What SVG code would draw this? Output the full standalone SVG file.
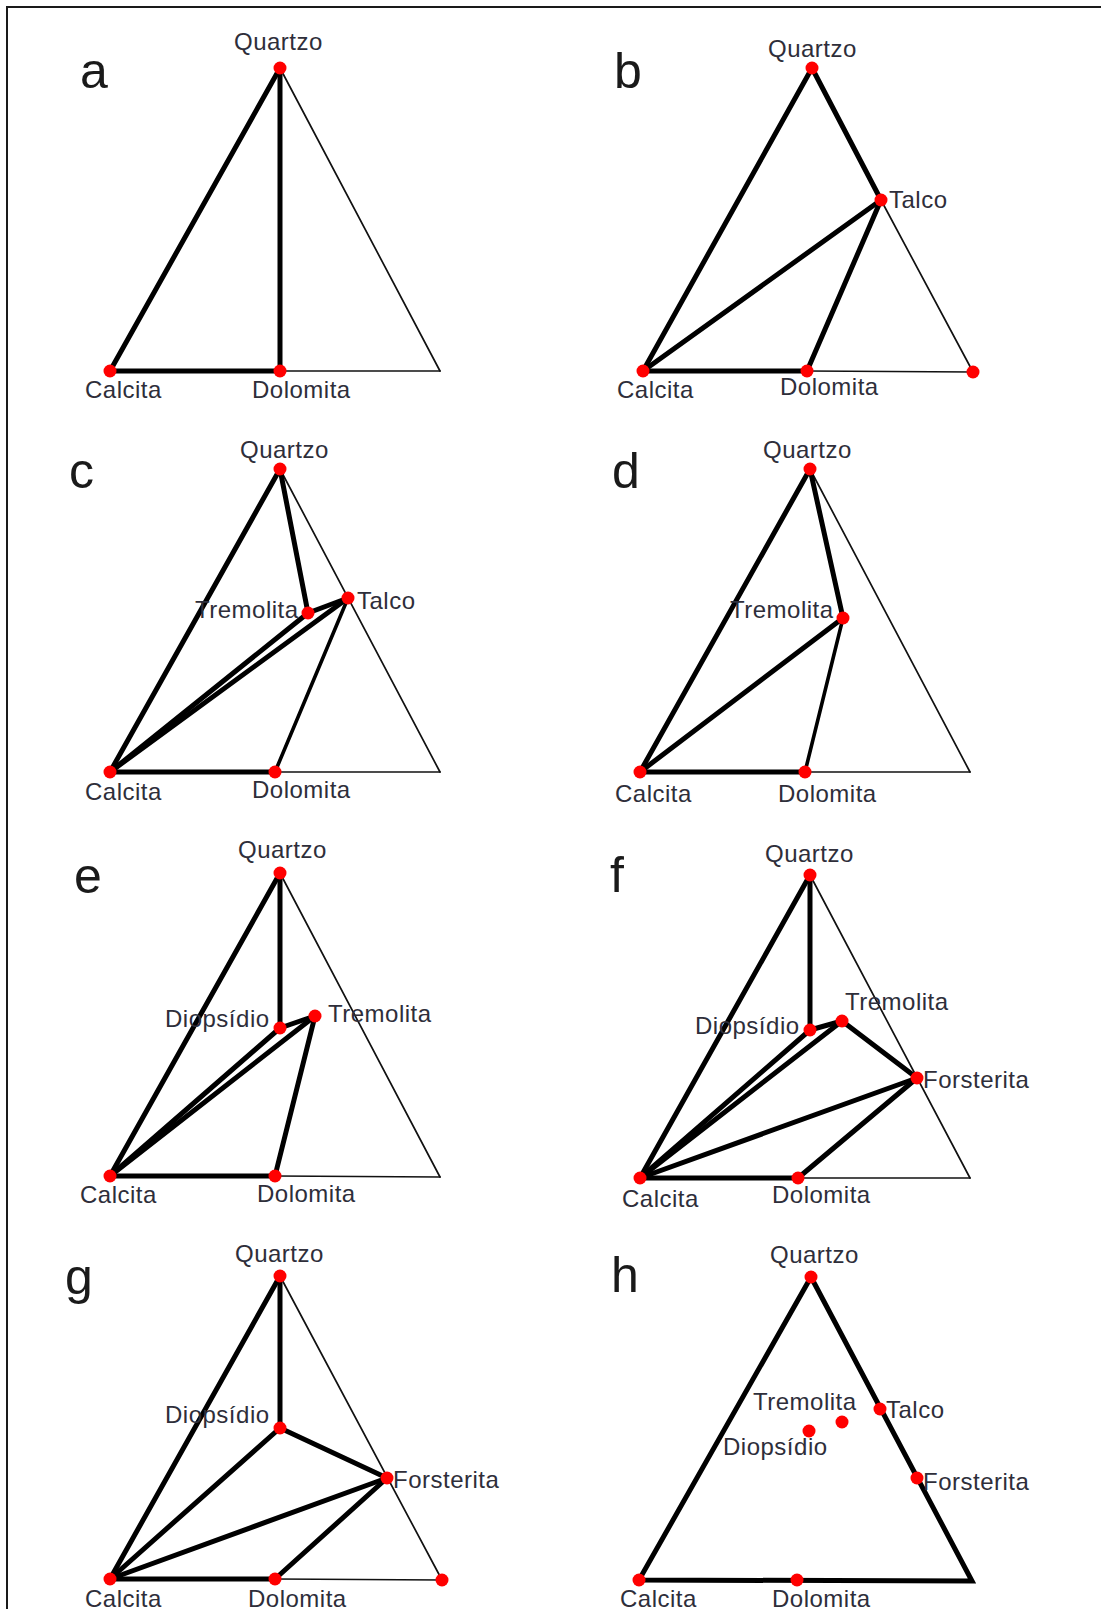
<svg xmlns="http://www.w3.org/2000/svg" width="1101" height="1609" viewBox="0 0 1101 1609">
<style>
.thick{stroke:#000;stroke-width:5;stroke-linecap:round;fill:none}
.med{stroke:#000;stroke-width:3.6;stroke-linecap:round;fill:none}
.thin{stroke:#111;stroke-width:1.7;stroke-linecap:round;fill:none}
.dot{fill:#ff0000}
.lbl{font-family:"Liberation Sans",Arial,sans-serif;font-size:24px;letter-spacing:0.5px;fill:#2e2e3a}
.pl{font-family:"Liberation Sans",Arial,sans-serif;font-size:50px;fill:#1a1a1a}
</style>
<rect width="1101" height="1609" fill="#fff"/>
<path d="M7,1609 V7 H1101" fill="none" stroke="#1a1a1a" stroke-width="2"/>

<!-- Panel a -->
<g id="panel-a">
<text class="pl" x="80" y="88">a</text>
<g id="a-connectors">
<line class="thin" x1="280" y1="68" x2="440" y2="371"/>
<line class="thin" x1="280" y1="371" x2="440" y2="371"/>
<line class="thick" x1="280" y1="68" x2="110" y2="371"/>
<line class="thick" x1="280" y1="68" x2="280" y2="371"/>
<line class="thick" x1="110" y1="371" x2="280" y2="371"/>
</g>
<g id="a-quartzo"><circle class="dot" cx="280" cy="68" r="6.5"/><text class="lbl" x="234" y="50">Quartzo</text></g>
<g id="a-calcita"><circle class="dot" cx="110" cy="371" r="6.5"/><text class="lbl" x="85" y="398">Calcita</text></g>
<g id="a-dolomita"><circle class="dot" cx="280" cy="371" r="6.5"/><text class="lbl" x="252" y="398">Dolomita</text></g>
</g>

<!-- Panel b -->
<g id="panel-b">
<text class="pl" x="614" y="88">b</text>
<g id="b-connectors">
<line class="thin" x1="881" y1="200" x2="973" y2="372"/>
<line class="thin" x1="807" y1="371" x2="973" y2="372"/>
<line class="thick" x1="812" y1="68" x2="643" y2="371"/>
<line class="thick" x1="812" y1="68" x2="881" y2="200"/>
<line class="thick" x1="881" y1="200" x2="643" y2="371"/>
<line class="thick" x1="881" y1="200" x2="807" y2="371"/>
<line class="thick" x1="643" y1="371" x2="807" y2="371"/>
</g>
<g id="b-quartzo"><circle class="dot" cx="812" cy="68" r="6.5"/><text class="lbl" x="768" y="57">Quartzo</text></g>
<g id="b-talco"><circle class="dot" cx="881" cy="200" r="6.5"/><text class="lbl" x="889" y="208">Talco</text></g>
<g id="b-calcita"><circle class="dot" cx="643" cy="371" r="6.5"/><text class="lbl" x="617" y="398">Calcita</text></g>
<g id="b-dolomita"><circle class="dot" cx="807" cy="371" r="6.5"/><text class="lbl" x="780" y="395">Dolomita</text></g>
<g id="b-vertice"><circle class="dot" cx="973" cy="372" r="6.5"/></g>
</g>

<!-- Panel c -->
<g id="panel-c">
<text class="pl" x="69" y="488">c</text>
<g id="c-connectors">
<line class="thin" x1="280" y1="469" x2="440" y2="772"/>
<line class="thin" x1="275" y1="772" x2="440" y2="772"/>
<line class="thick" x1="280" y1="469" x2="110" y2="772"/>
<line class="thick" x1="280" y1="469" x2="308" y2="613"/>
<line class="thick" x1="308" y1="613" x2="348" y2="598"/>
<line class="thick" x1="308" y1="613" x2="110" y2="772"/>
<line class="thick" x1="348" y1="598" x2="110" y2="772"/>
<line class="med" x1="348" y1="598" x2="275" y2="772"/>
<line class="thick" x1="110" y1="772" x2="275" y2="772"/>
</g>
<g id="c-quartzo"><circle class="dot" cx="280" cy="469" r="6.5"/><text class="lbl" x="240" y="458">Quartzo</text></g>
<g id="c-tremolita"><circle class="dot" cx="308" cy="613" r="6.5"/><text class="lbl" x="195" y="618">Tremolita</text></g>
<g id="c-talco"><circle class="dot" cx="348" cy="598" r="6.5"/><text class="lbl" x="357" y="609">Talco</text></g>
<g id="c-calcita"><circle class="dot" cx="110" cy="772" r="6.5"/><text class="lbl" x="85" y="800">Calcita</text></g>
<g id="c-dolomita"><circle class="dot" cx="275" cy="772" r="6.5"/><text class="lbl" x="252" y="798">Dolomita</text></g>
</g>

<!-- Panel d -->
<g id="panel-d">
<text class="pl" x="612" y="488">d</text>
<g id="d-connectors">
<line class="thin" x1="810" y1="469" x2="970" y2="772"/>
<line class="thin" x1="805" y1="772" x2="970" y2="772"/>
<line class="thick" x1="810" y1="469" x2="640" y2="772"/>
<line class="thick" x1="810" y1="469" x2="843" y2="618"/>
<line class="thick" x1="843" y1="618" x2="640" y2="772"/>
<line class="med" x1="843" y1="618" x2="805" y2="772"/>
<line class="thick" x1="640" y1="772" x2="805" y2="772"/>
</g>
<g id="d-quartzo"><circle class="dot" cx="810" cy="469" r="6.5"/><text class="lbl" x="763" y="458">Quartzo</text></g>
<g id="d-tremolita"><circle class="dot" cx="843" cy="618" r="6.5"/><text class="lbl" x="730" y="618">Tremolita</text></g>
<g id="d-calcita"><circle class="dot" cx="640" cy="772" r="6.5"/><text class="lbl" x="615" y="802">Calcita</text></g>
<g id="d-dolomita"><circle class="dot" cx="805" cy="772" r="6.5"/><text class="lbl" x="778" y="802">Dolomita</text></g>
</g>

<!-- Panel e -->
<g id="panel-e">
<text class="pl" x="74" y="893">e</text>
<g id="e-connectors">
<line class="thin" x1="280" y1="873" x2="440" y2="1177"/>
<line class="thin" x1="275" y1="1176" x2="440" y2="1177"/>
<line class="thick" x1="280" y1="873" x2="110" y2="1176"/>
<line class="thick" x1="280" y1="873" x2="280" y2="1028"/>
<line class="thick" x1="280" y1="1028" x2="315" y2="1016"/>
<line class="thick" x1="280" y1="1028" x2="110" y2="1176"/>
<line class="thick" x1="315" y1="1016" x2="110" y2="1176"/>
<line class="thick" x1="315" y1="1016" x2="275" y2="1176"/>
<line class="thick" x1="110" y1="1176" x2="275" y2="1176"/>
</g>
<g id="e-quartzo"><circle class="dot" cx="280" cy="873" r="6.5"/><text class="lbl" x="238" y="858">Quartzo</text></g>
<g id="e-diopsidio"><circle class="dot" cx="280" cy="1028" r="6.5"/><text class="lbl" x="165" y="1027">Diopsídio</text></g>
<g id="e-tremolita"><circle class="dot" cx="315" cy="1016" r="6.5"/><text class="lbl" x="328" y="1022">Tremolita</text></g>
<g id="e-calcita"><circle class="dot" cx="110" cy="1176" r="6.5"/><text class="lbl" x="80" y="1203">Calcita</text></g>
<g id="e-dolomita"><circle class="dot" cx="275" cy="1176" r="6.5"/><text class="lbl" x="257" y="1202">Dolomita</text></g>
</g>

<!-- Panel f -->
<g id="panel-f">
<text class="pl" x="610" y="892">f</text>
<g id="f-connectors">
<line class="thin" x1="810" y1="875" x2="970" y2="1178"/>
<line class="thin" x1="798" y1="1178" x2="970" y2="1178"/>
<line class="thick" x1="810" y1="875" x2="640" y2="1178"/>
<line class="thick" x1="810" y1="875" x2="810" y2="1030"/>
<line class="thick" x1="810" y1="1030" x2="842" y2="1021"/>
<line class="thick" x1="810" y1="1030" x2="640" y2="1178"/>
<line class="thick" x1="842" y1="1021" x2="640" y2="1178"/>
<line class="thick" x1="842" y1="1021" x2="917" y2="1078"/>
<line class="thick" x1="917" y1="1078" x2="640" y2="1178"/>
<line class="thick" x1="917" y1="1078" x2="798" y2="1178"/>
<line class="thick" x1="640" y1="1178" x2="798" y2="1178"/>
</g>
<g id="f-quartzo"><circle class="dot" cx="810" cy="875" r="6.5"/><text class="lbl" x="765" y="862">Quartzo</text></g>
<g id="f-diopsidio"><circle class="dot" cx="810" cy="1030" r="6.5"/><text class="lbl" x="695" y="1034">Diopsídio</text></g>
<g id="f-tremolita"><circle class="dot" cx="842" cy="1021" r="6.5"/><text class="lbl" x="845" y="1010">Tremolita</text></g>
<g id="f-forsterita"><circle class="dot" cx="917" cy="1078" r="6.5"/><text class="lbl" x="923" y="1088">Forsterita</text></g>
<g id="f-calcita"><circle class="dot" cx="640" cy="1178" r="6.5"/><text class="lbl" x="622" y="1207">Calcita</text></g>
<g id="f-dolomita"><circle class="dot" cx="798" cy="1178" r="6.5"/><text class="lbl" x="772" y="1203">Dolomita</text></g>
</g>

<!-- Panel g -->
<g id="panel-g">
<text class="pl" x="65" y="1294">g</text>
<g id="g-connectors">
<line class="thin" x1="280" y1="1276" x2="442" y2="1580"/>
<line class="thin" x1="275" y1="1579" x2="442" y2="1580"/>
<line class="thick" x1="280" y1="1276" x2="110" y2="1579"/>
<line class="thick" x1="280" y1="1276" x2="280" y2="1428"/>
<line class="thick" x1="280" y1="1428" x2="387" y2="1478"/>
<line class="thick" x1="280" y1="1428" x2="110" y2="1579"/>
<line class="thick" x1="387" y1="1478" x2="110" y2="1579"/>
<line class="thick" x1="387" y1="1478" x2="275" y2="1579"/>
<line class="thick" x1="110" y1="1579" x2="275" y2="1579"/>
</g>
<g id="g-quartzo"><circle class="dot" cx="280" cy="1276" r="6.5"/><text class="lbl" x="235" y="1262">Quartzo</text></g>
<g id="g-diopsidio"><circle class="dot" cx="280" cy="1428" r="6.5"/><text class="lbl" x="165" y="1423">Diopsídio</text></g>
<g id="g-forsterita"><circle class="dot" cx="387" cy="1478" r="6.5"/><text class="lbl" x="393" y="1488">Forsterita</text></g>
<g id="g-calcita"><circle class="dot" cx="110" cy="1579" r="6.5"/><text class="lbl" x="85" y="1607">Calcita</text></g>
<g id="g-dolomita"><circle class="dot" cx="275" cy="1579" r="6.5"/><text class="lbl" x="248" y="1607">Dolomita</text></g>
<g id="g-vertice"><circle class="dot" cx="442" cy="1580" r="6.5"/></g>
</g>

<!-- Panel h -->
<g id="panel-h">
<text class="pl" x="611" y="1292">h</text>
<g id="h-connectors">
<polygon class="thick" points="811,1277 972,1581 639,1580" stroke-linejoin="miter"/>
</g>
<g id="h-quartzo"><circle class="dot" cx="811" cy="1277" r="6.5"/><text class="lbl" x="770" y="1263">Quartzo</text></g>
<g id="h-talco"><circle class="dot" cx="880" cy="1409" r="6.5"/><text class="lbl" x="886" y="1418">Talco</text></g>
<g id="h-tremolita"><circle class="dot" cx="842" cy="1422" r="6.5"/><text class="lbl" x="753" y="1410">Tremolita</text></g>
<g id="h-diopsidio"><circle class="dot" cx="809" cy="1431" r="6.5"/><text class="lbl" x="723" y="1455">Diopsídio</text></g>
<g id="h-forsterita"><circle class="dot" cx="917" cy="1478" r="6.5"/><text class="lbl" x="923" y="1490">Forsterita</text></g>
<g id="h-calcita"><circle class="dot" cx="639" cy="1580" r="6.5"/><text class="lbl" x="620" y="1607">Calcita</text></g>
<g id="h-dolomita"><circle class="dot" cx="797" cy="1580" r="6.5"/><text class="lbl" x="772" y="1607">Dolomita</text></g>
</g>
</svg>
